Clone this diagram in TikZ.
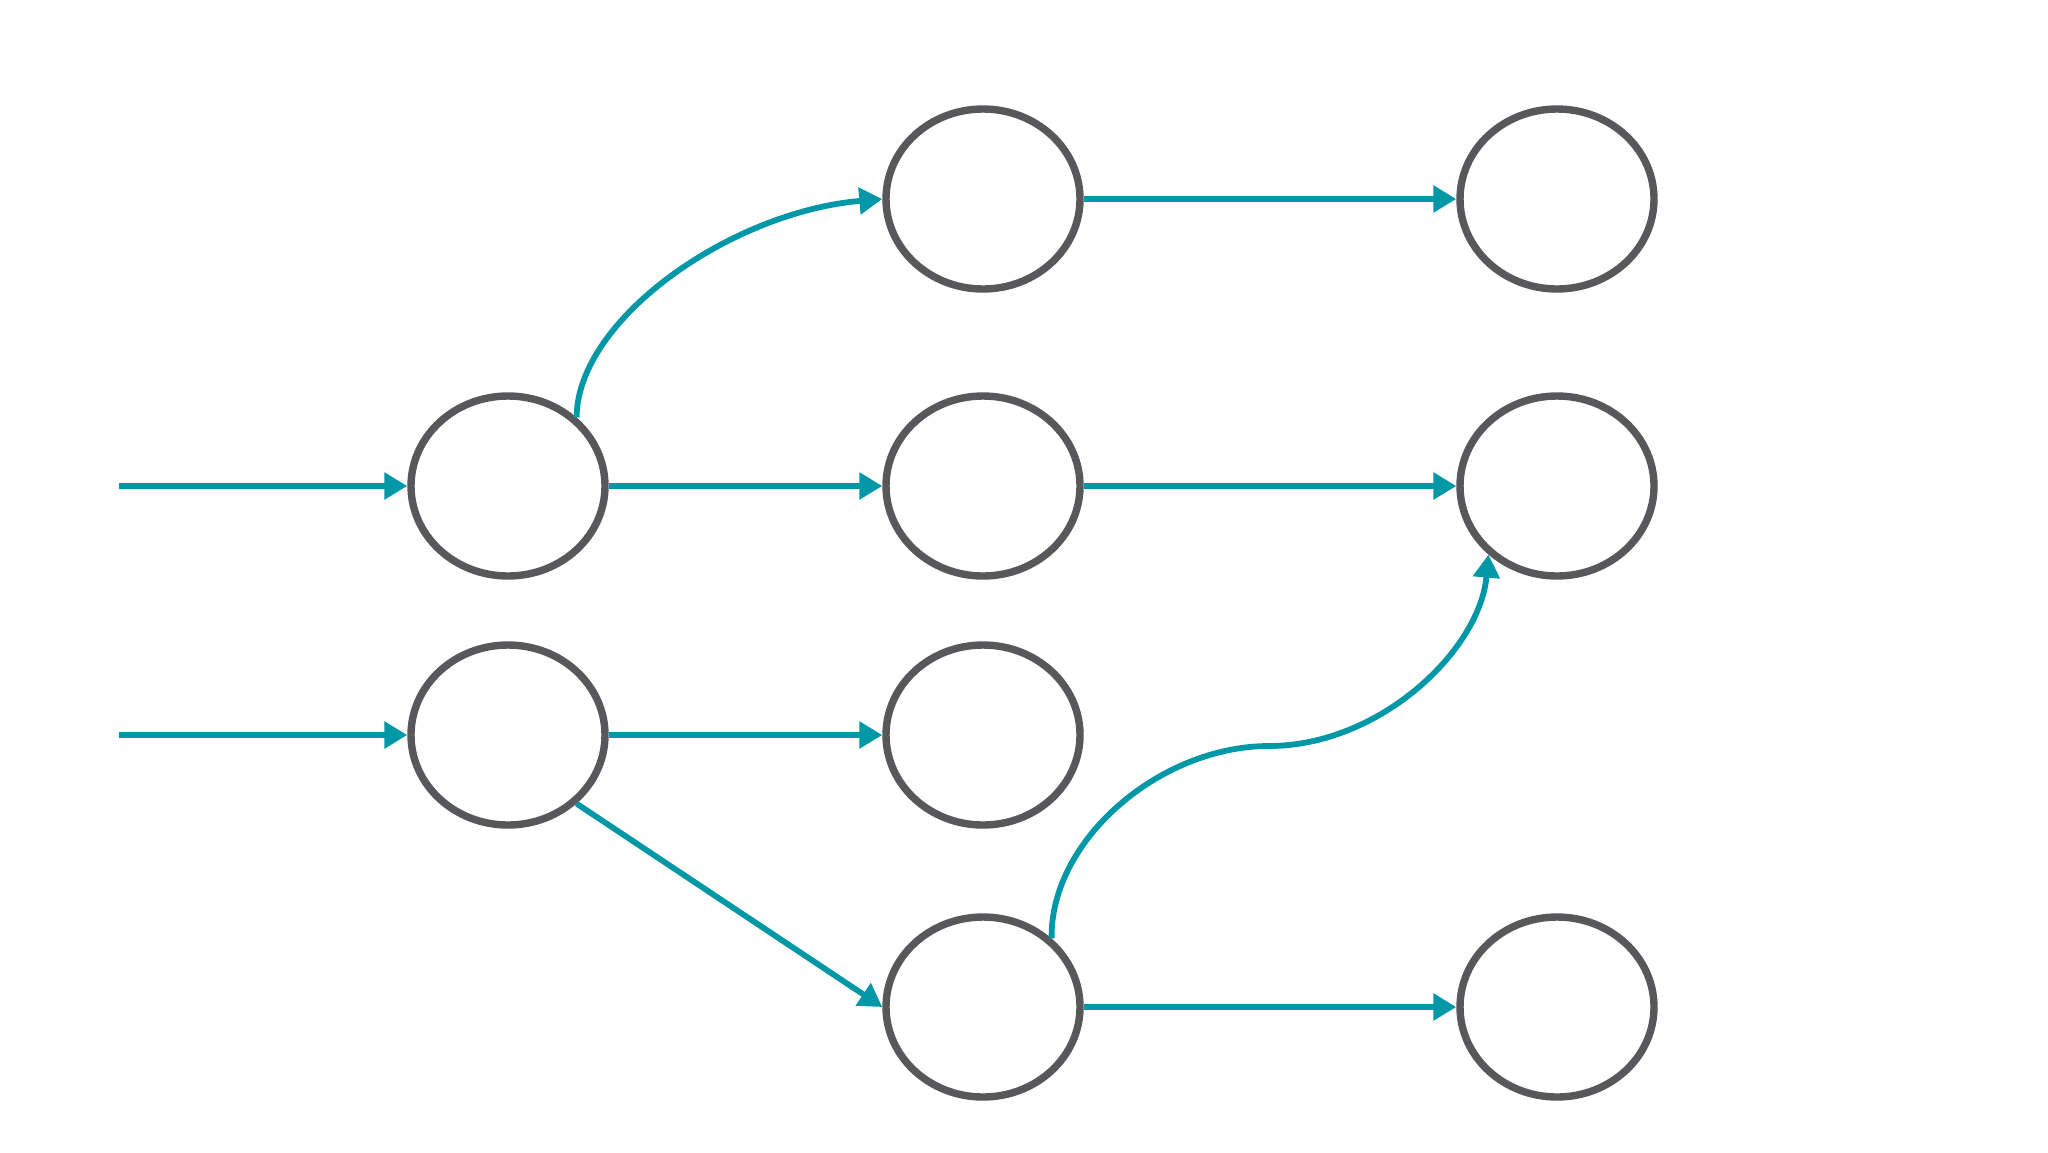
\documentclass[tikz,border=0pt]{standalone}
\usetikzlibrary{arrows.meta,shapes.geometric}
\definecolor{teal1}{HTML}{0097A7}
\definecolor{ring}{HTML}{58585A}
\begin{document}
\begin{tikzpicture}[x=0.5pt,y=-0.5pt,
  cell/.style={ellipse,draw=ring,line width=3.7pt,minimum width=97pt,minimum height=90pt,inner sep=0pt,fill=white},
  conn/.style={draw=teal1,line width=2.9pt,-{Triangle[length=11.5pt,width=13pt]}}]
\useasboundingbox (0,0) rectangle (2048,1152);
\node[cell] (A) at (508,486) {};
\node[cell] (B) at (508,735) {};
\node[cell] (C1) at (983,199) {};
\node[cell] (C2) at (983,486) {};
\node[cell] (C3) at (983,735) {};
\node[cell] (C4) at (983,1007) {};
\node[cell] (D1) at (1557,199) {};
\node[cell] (D2) at (1557,486) {};
\node[cell] (D4) at (1557,1007) {};
\coordinate (inA) at (119,486);
\coordinate (inB) at (119,735);
\coordinate (mid) at (1269,746);
\draw[conn] (inA) -- (A.west);
\draw[conn] (inB) -- (B.west);
\draw[conn] (A.east) -- (C2.west);
\draw[conn] (B.east) -- (C3.west);
\draw[conn] (C1.east) -- (D1.west);
\draw[conn] (C2.east) -- (D2.west);
\draw[conn] (C4.east) -- (D4.west);
\draw[conn] (B.-45) -- (C4.west);
\draw[conn] (A.45) .. controls (577,320) and (730,212) .. (C1.west);
\draw[conn] (C4.45) .. controls (1050,840) and (1160,746) .. (mid) .. controls (1380,746) and (1480,650) .. (D2.225);
\end{tikzpicture}
\end{document}
